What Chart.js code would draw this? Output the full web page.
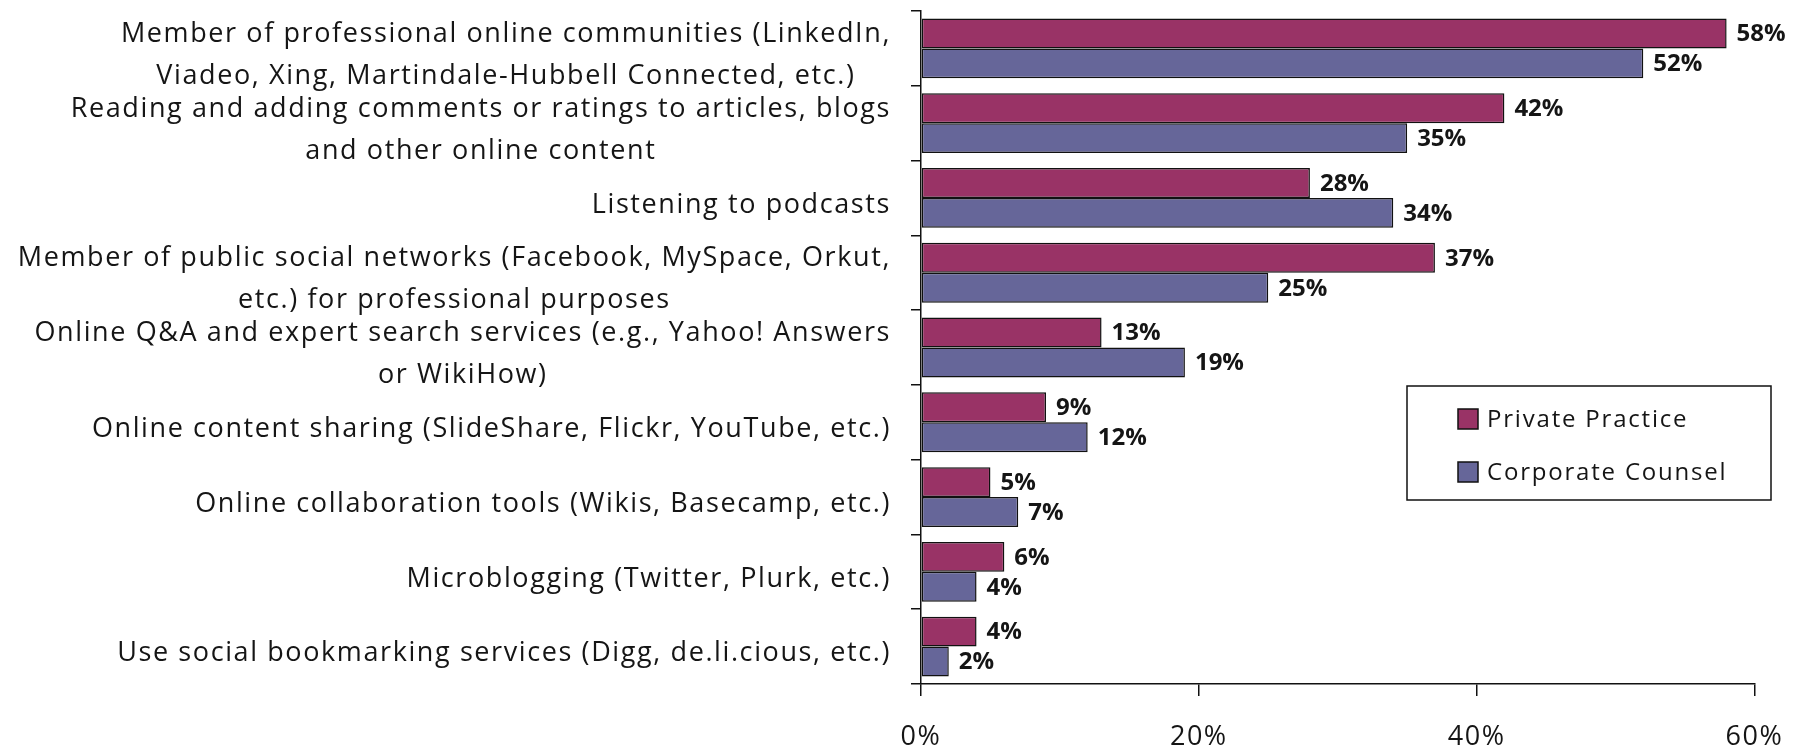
<!DOCTYPE html>
<html>
<head>
<meta charset="utf-8">
<title>Social media use</title>
<script src="https://cdn.jsdelivr.net/npm/chart.js@4.4.1/dist/chart.umd.min.js"></script>
<style>
  html, body { margin: 0; padding: 0; background: #fff; }
  #wrap { width: 1806px; height: 753px; }
</style>
</head>
<body>
<div id="wrap"><canvas id="myChart" width="1806" height="753"></canvas></div>
<script>
// category labels (line breaks as in the original)
const categories = [
    ['Member of professional online communities (LinkedIn,', 'Viadeo, Xing, Martindale-Hubbell Connected, etc.)'],
    ['Reading and adding comments or ratings to articles, blogs', 'and other online content'],
    ['Listening to podcasts'],
    ['Member of public social networks (Facebook, MySpace, Orkut,', 'etc.) for professional purposes'],
    ['Online Q&A and expert search services (e.g., Yahoo! Answers', 'or WikiHow)'],
    ['Online content sharing (SlideShare, Flickr, YouTube, etc.)'],
    ['Online collaboration tools (Wikis, Basecamp, etc.)'],
    ['Microblogging (Twitter, Plurk, etc.)'],
    ['Use social bookmarking services (Digg, de.li.cious, etc.)']
];
const privatePractice = [58, 42, 28, 37, 13, 9, 5, 6, 4];
const corporateCounsel = [52, 35, 34, 25, 19, 12, 7, 4, 2];
const seriesNames = ['Private Practice', 'Corporate Counsel'];
const seriesColors = ['#993366', '#666699'];
const xMin = 0;
const xMax = 60;
const xStep = 20;

const FONT = '"Open Sans", "DejaVu Sans", sans-serif';
const TEXT = '#151515';

// y labels: first line right aligned at the axis, other lines centred under it
const categoryLabels = {
    id: 'categoryLabels',
    afterDraw(chart) {
        const ctx = chart.ctx;
        const yScale = chart.scales.y;
        const right = yScale.right - 10 - 20;
        const lh = 42;
        ctx.save();
        ctx.font = '27px ' + FONT;
        ctx.letterSpacing = '1.6px';
        ctx.fillStyle = TEXT;
        ctx.textAlign = 'center';
        ctx.textBaseline = 'middle';
        for (let i = 0; i < categories.length; i++) {
            const lines = categories[i];
            const y = yScale.getPixelForTick(i) + 7;
            const w0 = ctx.measureText(lines[0]).width;
            const cx = right - w0 / 2;
            for (let k = 0; k < lines.length; k++) {
                ctx.fillText(lines[k], cx, y + (k - (lines.length - 1) / 2) * lh);
            }
        }
        ctx.restore();
    }
};

// percentage next to each bar
const valueLabels = {
    id: 'valueLabels',
    afterDatasetsDraw(chart) {
        const ctx = chart.ctx;
        ctx.save();
        ctx.font = 'bold 24px ' + FONT;
        ctx.letterSpacing = '0px';
        ctx.fillStyle = TEXT;
        ctx.textAlign = 'left';
        ctx.textBaseline = 'middle';
        chart.data.datasets.forEach((ds, di) => {
            const meta = chart.getDatasetMeta(di);
            meta.data.forEach((bar, i) => {
                ctx.fillText(ds.data[i] + '%', bar.x + 10, bar.y + 1);
            });
        });
        ctx.restore();
    }
};

// boxed legend floating inside the plot
const boxLegend = {
    id: 'boxLegend',
    afterDraw(chart) {
        const ctx = chart.ctx;
        const box = { x: 1407, y: 386, w: 364, h: 114 };
        ctx.save();
        ctx.fillStyle = '#fff';
        ctx.fillRect(box.x, box.y, box.w, box.h);
        ctx.strokeStyle = '#111';
        ctx.lineWidth = 1.5;
        ctx.strokeRect(box.x, box.y, box.w, box.h);
        ctx.font = '24px ' + FONT;
        ctx.letterSpacing = '1.8px';
        ctx.textAlign = 'left';
        ctx.textBaseline = 'middle';
        chart.data.datasets.forEach((ds, di) => {
            const cy = box.y + 33 + di * 53;
            ctx.fillStyle = ds.backgroundColor;
            ctx.fillRect(box.x + 51, cy - 10, 20, 20);
            ctx.strokeRect(box.x + 51, cy - 10, 20, 20);
            ctx.fillStyle = TEXT;
            ctx.fillText(ds.label, box.x + 80, cy + 1);
        });
        ctx.restore();
    }
};

const spacing = {
    id: 'spacing',
    beforeDraw(chart) {
        chart.ctx.letterSpacing = '1.5px';
    }
};

const config = {
    type: 'bar',
    data: {
        labels: categories,
        datasets: [{
            label: seriesNames[0],
            data: privatePractice,
            backgroundColor: seriesColors[0],
            borderColor: '#111',
            borderWidth: 1.5,
            borderSkipped: false
        }, {
            label: seriesNames[1],
            data: corporateCounsel,
            backgroundColor: seriesColors[1],
            borderColor: '#111',
            borderWidth: 1.5,
            borderSkipped: false
        }]
    },
    options: {
        indexAxis: 'y',
        responsive: false,
        animation: false,
        categoryPercentage: 0.8,
        barPercentage: 1.0,
        layout: { padding: { top: 11, right: 49, left: 0, bottom: 0 } },
        scales: {
            x: {
                min: xMin,
                max: xMax,
                border: { display: true, color: '#111', width: 1.5 },
                grid: { drawOnChartArea: false, drawTicks: true, tickLength: 12, color: '#111', lineWidth: 1.5 },
                ticks: {
                    stepSize: xStep,
                    padding: 25,
                    color: TEXT,
                    font: { family: FONT, size: 27 },
                    callback: (v) => v + '%'
                },
                afterFit: (scale) => { scale.height = 69; }
            },
            y: {
                border: { display: true, color: '#111', width: 1.5 },
                grid: { drawOnChartArea: false, drawTicks: true, tickLength: 10, color: '#111', lineWidth: 1.5 },
                ticks: { display: false },
                afterFit: (scale) => { scale.width = 921; }
            }
        },
        plugins: {
            legend: { display: false },
            tooltip: { enabled: false }
        }
    },
    plugins: [spacing, valueLabels, categoryLabels, boxLegend]
};

const myChart = new Chart(document.getElementById('myChart'), config);
</script>
</body>
</html>
